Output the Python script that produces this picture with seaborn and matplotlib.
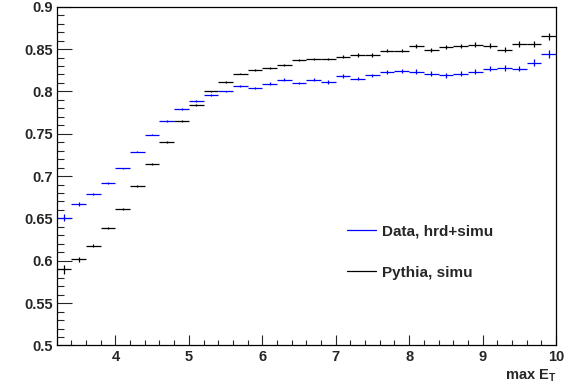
import numpy as np
import pandas as pd
import matplotlib
matplotlib.use('Agg')
import matplotlib.pyplot as plt
from matplotlib.lines import Line2D
from matplotlib.ticker import MultipleLocator
import seaborn as sns

# dane (biny o szerokosci 0.2, od 3.2 do 10)
bin_lo = 3.2
bin_w = 0.2

data_hrd = [0.651, 0.667, 0.679, 0.692, 0.709, 0.729, 0.749, 0.765, 0.779, 0.789,
            0.796, 0.800, 0.806, 0.804, 0.809, 0.814, 0.810, 0.814, 0.811, 0.818,
            0.815, 0.819, 0.823, 0.824, 0.823, 0.821, 0.819, 0.821, 0.823, 0.827,
            0.828, 0.827, 0.834, 0.844]
data_err = [0.004, 0.002, 0.0015, 0.001, 0.001, 0.001, 0.001, 0.001, 0.001, 0.001,
            0.001, 0.001, 0.001, 0.0015, 0.0015, 0.0015, 0.0015, 0.002, 0.002, 0.002,
            0.002, 0.002, 0.0025, 0.0025, 0.003, 0.003, 0.003, 0.003, 0.003, 0.0035,
            0.0035, 0.0035, 0.004, 0.0045]

pythia = [0.590, 0.602, 0.618, 0.639, 0.661, 0.688, 0.714, 0.740, 0.765, 0.784,
          0.800, 0.811, 0.821, 0.825, 0.828, 0.831, 0.837, 0.838, 0.838, 0.841,
          0.843, 0.843, 0.848, 0.848, 0.854, 0.849, 0.852, 0.854, 0.855, 0.854,
          0.849, 0.856, 0.856, 0.865]
pythia_err = [0.0055, 0.003, 0.002, 0.001, 0.001, 0.001, 0.001, 0.001, 0.001, 0.001,
              0.001, 0.001, 0.001, 0.001, 0.001, 0.0015, 0.0015, 0.0015, 0.0015, 0.002,
              0.002, 0.002, 0.002, 0.002, 0.0025, 0.0025, 0.0025, 0.0025, 0.003, 0.003,
              0.003, 0.0035, 0.0035, 0.004]

etykiety = ['Data, hrd+simu', 'Pythia, simu']
kolory = ['#0000ff', '#000000']

srodki = bin_lo + bin_w / 2 + bin_w * np.arange(len(data_hrd))
dane = pd.DataFrame({'x': srodki,
                     'data': data_hrd, 'data_err': data_err,
                     'pythia': pythia, 'pythia_err': pythia_err})

# styl
sns.set_style('ticks')
plt.rcParams['font.family'] = ['Liberation Sans', 'DejaVu Sans']
plt.rcParams['font.weight'] = 'bold'
plt.rcParams['mathtext.fontset'] = 'custom'
plt.rcParams['mathtext.rm'] = 'Liberation Sans:bold'
plt.rcParams['mathtext.bf'] = 'Liberation Sans:bold'
plt.rcParams['mathtext.it'] = 'Liberation Sans:bold'

fig = plt.figure(figsize=(5.67, 3.84), dpi=100)
ax = fig.add_axes([0.1, 0.1003, 0.8806, 0.8823])

for kol, err, c in [('data', 'data_err', kolory[0]), ('pythia', 'pythia_err', kolory[1])]:
    ax.errorbar(dane['x'], dane[kol], xerr=bin_w / 2, yerr=dane[err], fmt='none',
                ecolor=c, elinewidth=0.9, capsize=0)

ax.set_xlim(3.2, 10)
ax.set_ylim(0.5, 0.9)

ax.xaxis.set_minor_locator(MultipleLocator(0.2))
ax.yaxis.set_minor_locator(MultipleLocator(0.01))
ax.set_xticks([4, 5, 6, 7, 8, 9, 10])
ax.set_xticklabels(['4', '5', '6', '7', '8', '9', '10'])
ax.set_yticks([0.5, 0.55, 0.6, 0.65, 0.7, 0.75, 0.8, 0.85, 0.9])
ax.set_yticklabels(['0.5', '0.55', '0.6', '0.65', '0.7', '0.75', '0.8', '0.85', '0.9'])

ax.tick_params(axis='x', which='major', direction='in', length=7.2, width=0.8,
               pad=3.5, labelsize=10.5, top=False)
ax.tick_params(axis='x', which='minor', direction='in', length=3.6, width=0.8, top=False)
ax.tick_params(axis='y', which='major', direction='in', length=10.8, width=0.8,
               pad=2.5, labelsize=10.5, right=False)
ax.tick_params(axis='y', which='minor', direction='in', length=5, width=0.8, right=False)
for s in ax.spines.values():
    s.set_linewidth(0.9)
    s.set_color('black')

ax.set_xlabel(r'max E$_{\mathrm{T}}$', loc='right', fontsize=10.5, fontweight='bold', labelpad=2)

uchwyty = [Line2D([0], [0], color=c, lw=0.9) for c in kolory]
ax.legend(uchwyty, etykiety, loc='center left', bbox_to_anchor=(0.582, 0.276),
          frameon=False, fontsize=11, handlelength=1.85, handletextpad=0.45,
          labelspacing=1.8, borderpad=0, borderaxespad=0)

plt.savefig('out.png', dpi=100)
